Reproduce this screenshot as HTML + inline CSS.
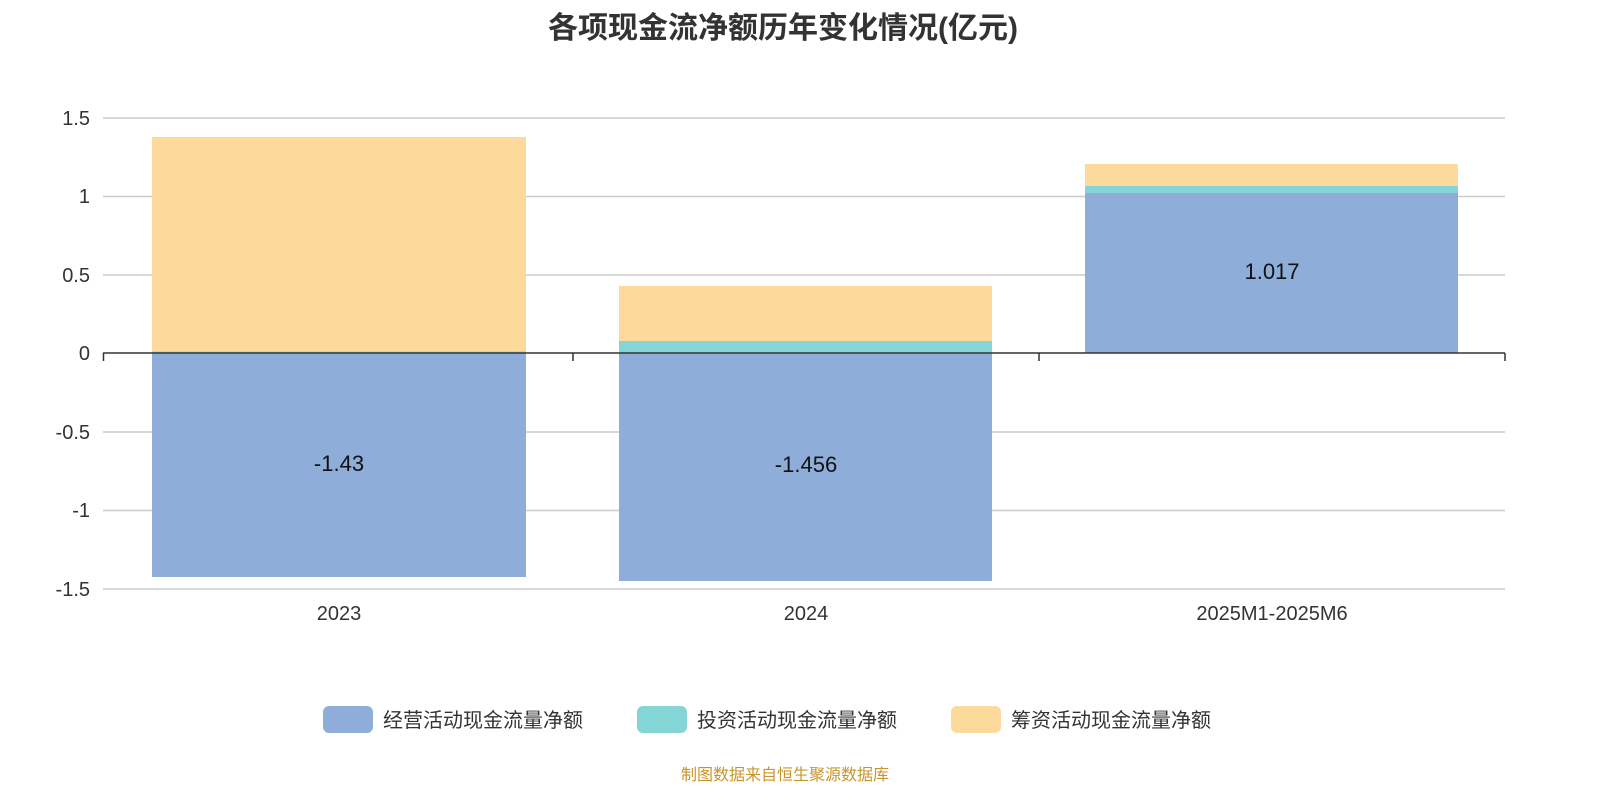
<!DOCTYPE html>
<html><head><meta charset="utf-8"><style>
html,body{margin:0;padding:0;background:#fff;overflow:hidden;width:1600px;height:800px;}
svg{display:block;}
text{font-family:"Liberation Sans","Noto Sans CJK SC",sans-serif;}
</style></head><body>
<svg width="1600" height="800" xmlns="http://www.w3.org/2000/svg">
<text x="783" y="38" text-anchor="middle" font-size="30" font-weight="bold" fill="#333">各项现金流净额历年变化情况(亿元)</text>
<g stroke="#ccc" stroke-width="1.5">
<line x1="103" y1="118" x2="1505" y2="118"/>
<line x1="103" y1="196.5" x2="1505" y2="196.5"/>
<line x1="103" y1="275" x2="1505" y2="275"/>
<line x1="103" y1="432" x2="1505" y2="432"/>
<line x1="103" y1="510.5" x2="1505" y2="510.5"/>
<line x1="103" y1="589" x2="1505" y2="589"/>
</g>
<g font-size="20" fill="#333" text-anchor="end">
<text x="90" y="125">1.5</text>
<text x="90" y="203">1</text>
<text x="90" y="282">0.5</text>
<text x="90" y="360">0</text>
<text x="90" y="439">-0.5</text>
<text x="90" y="517">-1</text>
<text x="90" y="596">-1.5</text>
</g>
<rect x="152" y="353" width="374" height="224" fill="#8eaed9"/>
<rect x="152" y="351.5" width="374" height="1.5" fill="#84d5d5"/>
<rect x="152" y="137" width="374" height="214.5" fill="#fdd99b"/>
<rect x="619" y="353" width="373" height="228" fill="#8eaed9"/>
<rect x="619" y="341" width="373" height="12" fill="#84d5d5"/>
<rect x="619" y="286" width="373" height="55" fill="#fdd99b"/>
<rect x="1085" y="193" width="373" height="160" fill="#8eaed9"/>
<rect x="1085" y="186" width="373" height="7" fill="#84d5d5"/>
<rect x="1085" y="164" width="373" height="22" fill="#fdd99b"/>
<g stroke="#333" stroke-width="1.5">
<line x1="103" y1="353" x2="1505" y2="353"/>
<line x1="103.5" y1="353" x2="103.5" y2="361"/>
<line x1="573" y1="353" x2="573" y2="361"/>
<line x1="1039" y1="353" x2="1039" y2="361"/>
<line x1="1505" y1="353" x2="1505" y2="361"/>
</g>
<g font-size="22" fill="#111" text-anchor="middle">
<text x="339" y="471">-1.43</text>
<text x="806" y="472">-1.456</text>
<text x="1272" y="279">1.017</text>
</g>
<g font-size="20" fill="#333" text-anchor="middle">
<text x="339" y="620">2023</text>
<text x="806" y="620">2024</text>
<text x="1272" y="620">2025M1-2025M6</text>
</g>
<g font-size="20" fill="#333">
<rect x="323" y="706" width="50" height="27" rx="6" fill="#8eaed9"/>
<text x="383" y="727">经营活动现金流量净额</text>
<rect x="637" y="706" width="50" height="27" rx="6" fill="#84d5d5"/>
<text x="697" y="727">投资活动现金流量净额</text>
<rect x="951" y="706" width="50" height="27" rx="6" fill="#fdd99b"/>
<text x="1011" y="727">筹资活动现金流量净额</text>
</g>
<text x="785" y="780" text-anchor="middle" font-size="16" fill="#c8952a">制图数据来自恒生聚源数据库</text>
</svg>
</body></html>
